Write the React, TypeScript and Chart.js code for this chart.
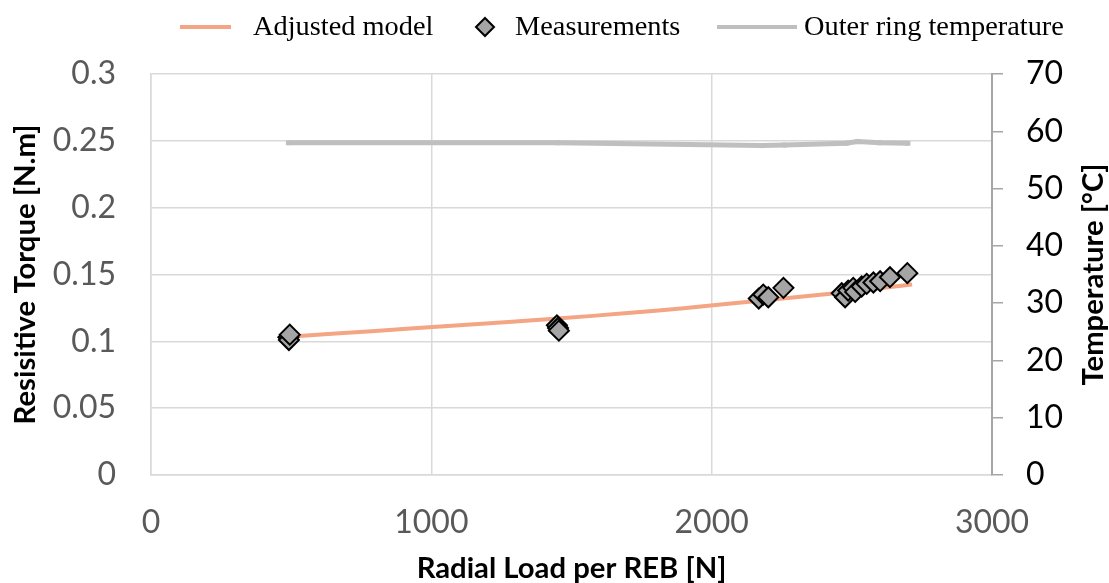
import React, { useEffect, useRef } from "react";
import { Chart, registerables } from "chart.js";

Chart.register(...registerables);

// ---- data ----
const xTickValues = [0, 1000, 2000, 3000];
const xTickLabels = ["0", "1000", "2000", "3000"];
const yTickValues = [0, 0.05, 0.1, 0.15, 0.2, 0.25, 0.3];
const yTickLabels = ["0", "0.05", "0.1", "0.15", "0.2", "0.25", "0.3"];
const y2TickValues = [0, 10, 20, 30, 40, 50, 60, 70];
const y2TickLabels = ["0", "10", "20", "30", "40", "50", "60", "70"];

const modelLoad = [490, 800, 1100, 1450, 1700, 1900, 2200, 2450, 2715];
const modelTorque = [0.1035, 0.1078, 0.112, 0.117, 0.1212, 0.1248, 0.131, 0.1362, 0.1425];

const measLoad = [490, 492, 495, 1448, 1452, 1455, 2168, 2184, 2202, 2256, 2464, 2476, 2487, 2505, 2512, 2535, 2553, 2577, 2601, 2636, 2698];
const measTorque = [0.103, 0.101, 0.105, 0.112, 0.11, 0.108, 0.132, 0.135, 0.133, 0.14, 0.136, 0.133, 0.138, 0.14, 0.137, 0.141, 0.143, 0.144, 0.145, 0.148, 0.151];

const tempLoad = [490, 1450, 2180, 2260, 2480, 2520, 2600, 2700];
const tempValue = [58.0, 58.0, 57.5, 57.6, 57.9, 58.2, 58.0, 57.9];

const seriesLabels = ["Adjusted model", "Measurements", "Outer ring temperature"];
const xTitle = "Radial Load per REB [N]";
const yTitle = "Resisitive Torque [N.m]";
const y2Title = "Temperature [°C]";

// ---- styles ----
const MODEL_COLOR = "#F3A584";
const MARKER_FILL = "#A5A5A5";
const TEMP_COLOR = "#BFBFBF";
const GRID_COLOR = "#D9D9D9";
const TICK_FONT = "Lato";
const LEGEND_FONT = "'Liberation Serif'";

// font size so that text spans a target width
function fitSize(text: string, target: number, family: string, weight: string): number {
  const c = document.createElement("canvas").getContext("2d");
  if (!c) return 28;
  c.font = `${weight} 100px ${family}`;
  const w = c.measureText(text).width;
  return w > 0 ? (100 * target) / w : 28;
}

function makeOverlay(y2Size: number, legendSize: number) {
  return {
    id: "overlay",
    afterDraw(chart: any) {
      const ctx = chart.ctx as CanvasRenderingContext2D;
      const area = chart.chartArea;
      const ds = chart.data.datasets;
      // right axis title (reads bottom-to-top)
      ctx.save();
      ctx.font = `bold ${y2Size}px ${TICK_FONT}`;
      ctx.fillStyle = "#000";
      ctx.textAlign = "center";
      ctx.textBaseline = "middle";
      ctx.translate(chart.scales.y2.right - 15, (area.top + area.bottom) / 2);
      ctx.rotate(-Math.PI / 2);
      ctx.fillText(y2Title, 0, 0);
      ctx.restore();

      // legend
      const ly = 27;
      ctx.save();
      ctx.font = `${legendSize}px ${LEGEND_FONT}`;
      ctx.fillStyle = "#000";
      ctx.textAlign = "left";
      ctx.textBaseline = "middle";
      ctx.strokeStyle = ds[0].borderColor;
      ctx.lineWidth = 4;
      ctx.beginPath();
      ctx.moveTo(180, ly);
      ctx.lineTo(231, ly);
      ctx.stroke();
      ctx.fillText(ds[0].label, 253, ly + 1);
      ctx.fillStyle = ds[1].backgroundColor;
      ctx.strokeStyle = ds[1].borderColor;
      ctx.lineWidth = 2;
      ctx.beginPath();
      ctx.moveTo(485 - 9, ly);
      ctx.lineTo(485, ly - 9);
      ctx.lineTo(485 + 9, ly);
      ctx.lineTo(485, ly + 9);
      ctx.closePath();
      ctx.fill();
      ctx.stroke();
      ctx.fillStyle = "#000";
      ctx.fillText(ds[1].label, 515, ly + 1);
      ctx.strokeStyle = ds[2].borderColor;
      ctx.lineWidth = 4;
      ctx.beginPath();
      ctx.moveTo(717, ly);
      ctx.lineTo(797, ly);
      ctx.stroke();
      ctx.fillText(ds[2].label, 804, ly + 1);
      ctx.restore();
    },
  };
}

export default function App() {
  const ref = useRef<HTMLCanvasElement | null>(null);

  useEffect(() => {
    if (!ref.current) return;
    const xTitleSize = fitSize(xTitle, 310, TICK_FONT, "bold");
    const yTitleSize = fitSize(yTitle, 300, TICK_FONT, "bold");
    const y2TitleSize = fitSize(y2Title, 222, TICK_FONT, "bold");
    const legendSize =
      (fitSize(seriesLabels[0], 176, LEGEND_FONT, "normal") +
        fitSize(seriesLabels[1], 167, LEGEND_FONT, "normal") +
        fitSize(seriesLabels[2], 264, LEGEND_FONT, "normal")) /
      3;

    const chart = new Chart(ref.current, {
      type: "scatter",
      data: {
        datasets: [
          {
            type: "line",
            label: seriesLabels[0],
            data: modelLoad.map((x, i) => ({ x, y: modelTorque[i] })),
            borderColor: MODEL_COLOR,
            backgroundColor: MODEL_COLOR,
            borderWidth: 4,
            pointRadius: 0,
            tension: 0.3,
            yAxisID: "y",
            order: 1,
          },
          {
            type: "scatter",
            label: seriesLabels[1],
            data: measLoad.map((x, i) => ({ x, y: measTorque[i] })),
            pointStyle: "rectRot",
            pointRadius: 10,
            pointBackgroundColor: MARKER_FILL,
            pointBorderColor: "#000",
            pointBorderWidth: 2,
            backgroundColor: MARKER_FILL,
            borderColor: "#000",
            yAxisID: "y",
            order: 0,
          },
          {
            type: "line",
            label: seriesLabels[2],
            data: tempLoad.map((x, i) => ({ x, y: tempValue[i] })),
            borderColor: TEMP_COLOR,
            backgroundColor: TEMP_COLOR,
            borderWidth: 5,
            pointStyle: "rect",
            pointRadius: 3.5,
            pointBorderWidth: 0,
            pointBackgroundColor: TEMP_COLOR,
            yAxisID: "y2",
            order: 2,
          },
        ],
      },
      options: {
        animation: false,
        responsive: false,
        layout: { padding: { top: 74, left: 0, right: 0, bottom: 0 } },
        plugins: {
          legend: { display: false },
          tooltip: { enabled: false },
        },
        scales: {
          x: {
            type: "linear",
            position: "bottom",
            min: 0,
            max: 3000,
            afterBuildTicks: (s: any) => {
              s.ticks = xTickValues.map((v) => ({ value: v }));
            },
            afterFit: (s: any) => {
              s.height = 108;
            },
            ticks: {
              callback: (_v: any, i: number) => xTickLabels[i],
              font: { family: TICK_FONT, size: 32 },
              color: "#595959",
              padding: 28,
              maxRotation: 0,
            },
            grid: { color: GRID_COLOR, lineWidth: 1.5, drawTicks: false },
            border: { display: true, color: GRID_COLOR, width: 1.5 },
            title: {
              display: true,
              text: xTitle,
              color: "#000",
              font: { family: TICK_FONT, size: xTitleSize, weight: "bold", lineHeight: 1 },
              padding: { top: 0, bottom: 0 },
            },
          },
          y: {
            type: "linear",
            position: "left",
            min: 0,
            max: 0.3,
            afterBuildTicks: (s: any) => {
              s.ticks = yTickValues.map((v) => ({ value: v }));
            },
            afterFit: (s: any) => {
              s.width = 151;
            },
            ticks: {
              callback: (_v: any, i: number) => yTickLabels[i],
              font: { family: TICK_FONT, size: 32 },
              color: "#595959",
              padding: 35,
            },
            grid: { color: GRID_COLOR, lineWidth: 1.5, drawTicks: false },
            border: { display: true, color: GRID_COLOR, width: 1.5 },
            title: {
              display: true,
              text: yTitle,
              color: "#000",
              font: { family: TICK_FONT, size: yTitleSize, weight: "bold", lineHeight: 1 },
              padding: { top: 11, bottom: 0 },
            },
          },
          y2: {
            type: "linear",
            position: "right",
            min: 0,
            max: 70,
            afterBuildTicks: (s: any) => {
              s.ticks = y2TickValues.map((v) => ({ value: v }));
            },
            afterFit: (s: any) => {
              s.width = 117;
            },
            ticks: {
              callback: (_v: any, i: number) => y2TickLabels[i],
              font: { family: TICK_FONT, size: 32 },
              color: "#000",
              padding: 23,
            },
            grid: {
              drawOnChartArea: false,
              drawTicks: true,
              tickLength: 11,
              color: "#A6A6A6",
              lineWidth: 1.5,
            },
            border: { display: true, color: "#A6A6A6", width: 2 },
            title: { display: false },
          },
        },
      },
      plugins: [makeOverlay(y2TitleSize, legendSize)],
    } as any);
    return () => chart.destroy();
  }, []);

  return (
    <div style={{ position: "absolute", left: 0, top: 0, width: 1109, height: 583, background: "#fff" }}>
      <canvas ref={ref} width={1109} height={583} style={{ display: "block" }} />
    </div>
  );
}
